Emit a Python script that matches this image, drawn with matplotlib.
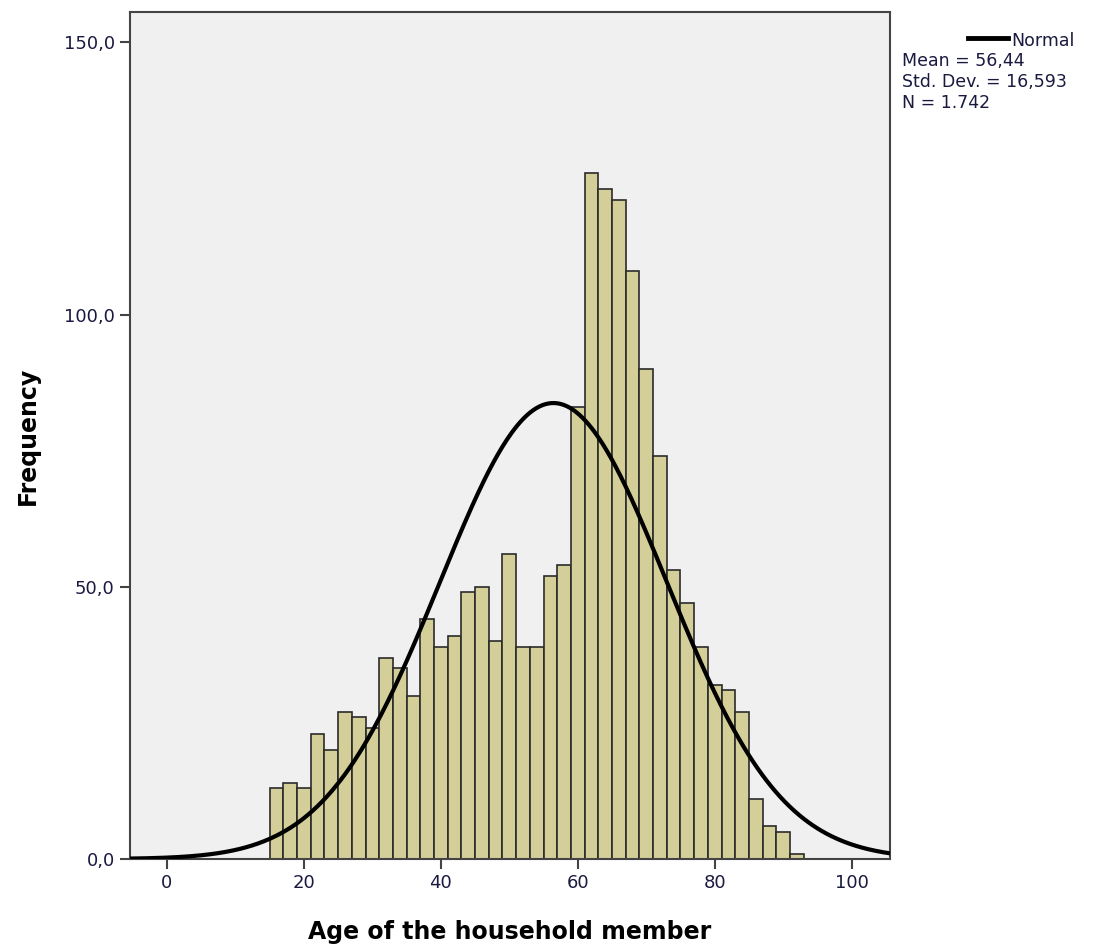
import numpy as np
import matplotlib.pyplot as plt
from matplotlib.lines import Line2D

# Histogram data (bin width 2, starting at age 15)
bin_start = 15
bin_width = 2
counts = [13, 14, 13, 23, 20, 27, 26, 24, 37, 35, 30, 44, 39, 41, 49, 50, 40, 56, 39, 39,
          52, 54, 83, 126, 123, 121, 108, 90, 74, 53, 47, 39, 32, 31, 27, 11, 6, 5, 1]
mean = 56.44
std = 16.593
n = 1742

x_ticks = [0, 20, 40, 60, 80, 100]
y_ticks = [0, 50, 100, 150]
y_tick_labels = ['0,0', '50,0', '100,0', '150,0']

edges = bin_start + bin_width * np.arange(len(counts) + 1)

fig = plt.figure(figsize=(10.99, 9.52), dpi=100)
ax = fig.add_axes([130 / 1099, 1 - 859 / 952, 760 / 1099, 847 / 952])
ax.set_facecolor('#f0f0f0')

ax.bar(edges[:-1], counts, width=bin_width, align='edge',
       color='#d4cf98', edgecolor='#2b2b2b', linewidth=1.2, zorder=2)

# normal curve scaled to the histogram
xs = np.linspace(-6, 106, 500)
ys = n * bin_width / (std * np.sqrt(2 * np.pi)) * np.exp(-0.5 * ((xs - mean) / std) ** 2)
ax.plot(xs, ys, color='black', linewidth=3, zorder=3)

ax.set_xlim(-5.4, 105.6)
ax.set_ylim(0, 155.6)
ax.set_xticks(x_ticks)
ax.set_yticks(y_ticks)
ax.set_yticklabels(y_tick_labels)
ax.tick_params(direction='out', length=7, width=1.5, color='#444444',
               labelsize=13, labelcolor='#1a1a40', pad=4)
for s in ax.spines.values():
    s.set_color('#444444')
    s.set_linewidth(1.5)

ax.set_xlabel('Age of the household member', fontsize=17, fontweight='bold', labelpad=20)
ax.set_ylabel('Frequency', fontsize=17, fontweight='bold', labelpad=17)

# legend block on the right
fig.add_artist(Line2D([968 / 1099, 1008 / 1099], [1 - 38 / 952, 1 - 38 / 952],
                      color='black', linewidth=3.5))
fig.text(1011 / 1099, 1 - 41 / 952, 'Normal', fontsize=12.5, va='center', color='#1a1a40')
fig.text(902 / 1099, 1 - 61 / 952, 'Mean = 56,44', fontsize=12.5, va='center', color='#1a1a40')
fig.text(902 / 1099, 1 - 82 / 952, 'Std. Dev. = 16,593', fontsize=12.5, va='center', color='#1a1a40')
fig.text(902 / 1099, 1 - 103 / 952, 'N = 1.742', fontsize=12.5, va='center', color='#1a1a40')

fig.savefig('out.png', dpi=100)
